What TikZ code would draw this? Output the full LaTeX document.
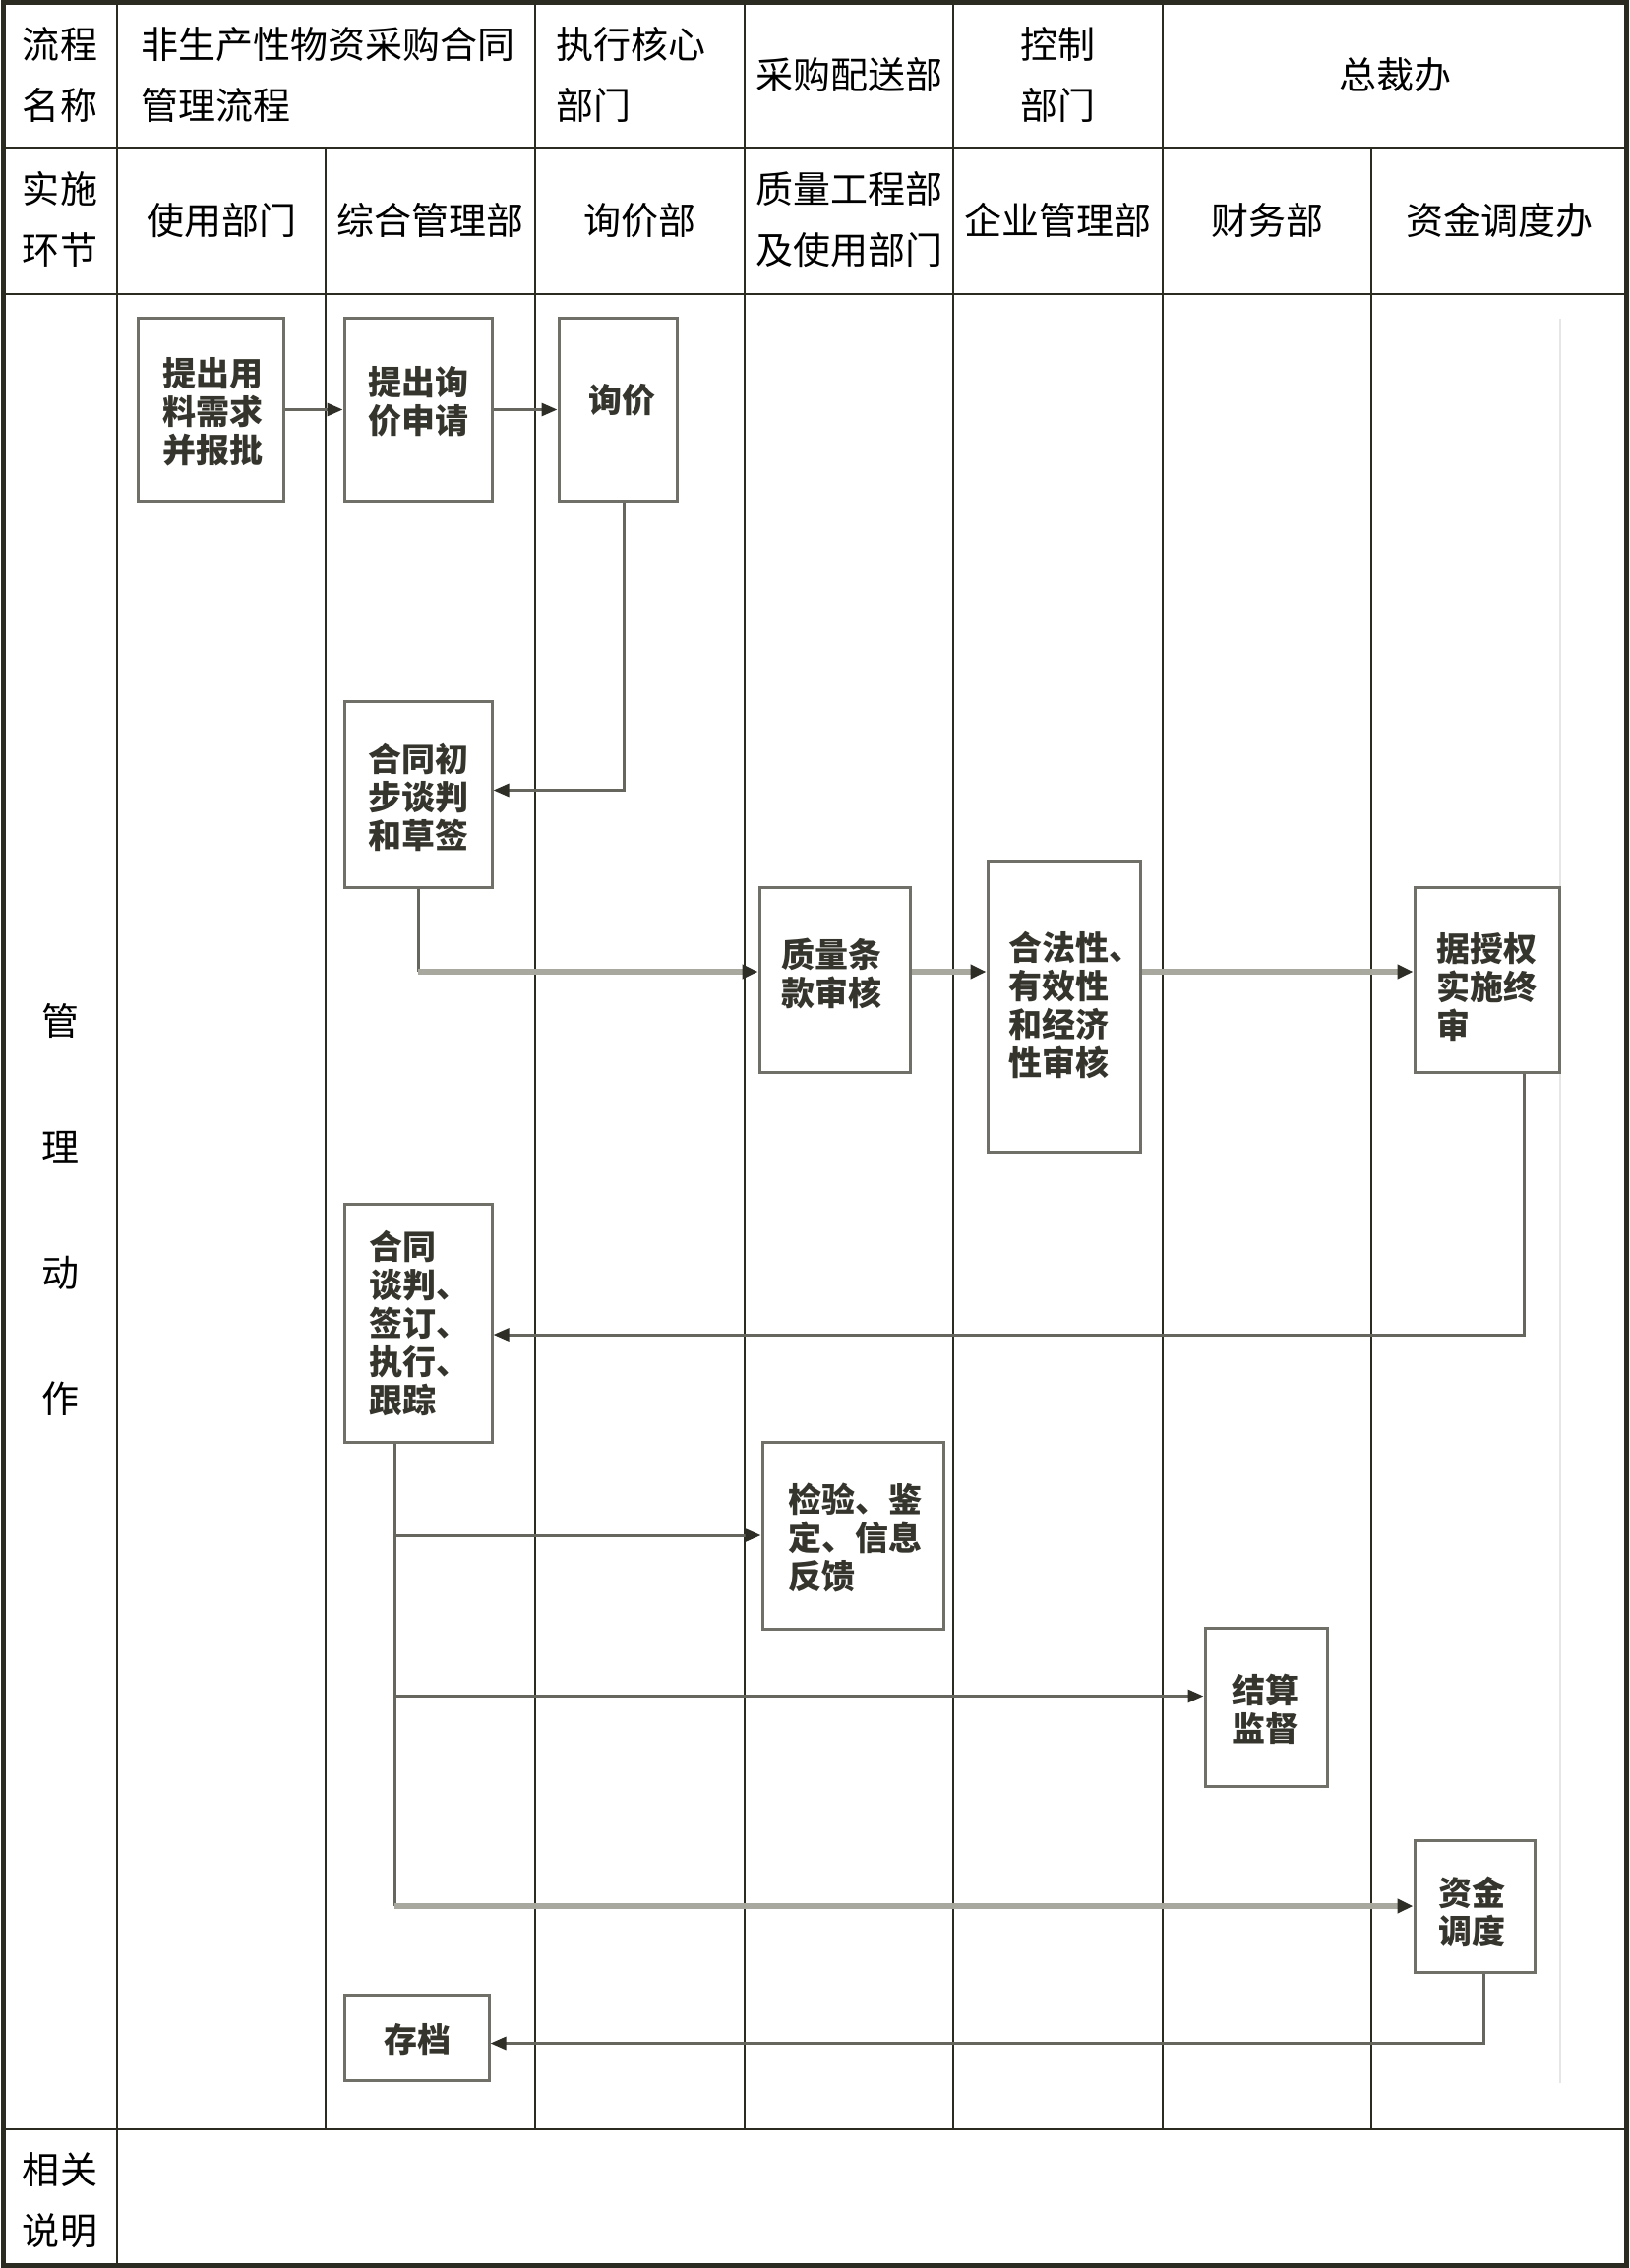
\documentclass[tikz,border=0pt]{standalone}
\usepackage{fontspec}
\setmainfont{Noto Sans CJK SC}
\newfontfamily\cjkf{Noto Sans CJK SC}
\usetikzlibrary{arrows.meta,calc}
\definecolor{gridc}{HTML}{2B2B22}
\definecolor{boxc}{HTML}{707068}
\definecolor{connc}{HTML}{66665E}
\definecolor{connlt}{HTML}{A8A89E}
\definecolor{tipc}{HTML}{2E2E26}
\definecolor{bxtxt}{HTML}{35352D}
\definecolor{faintc}{HTML}{E6E6E4}
\newcommand\myhdrfont{\cjkf\fontsize{38}{62}\selectfont}
\newcommand\mybxfont{\cjkf\bfseries\fontsize{34}{39}\selectfont}
\begin{document}
\begin{tikzpicture}[x=1pt,y=-1pt,
  gridline/.style={line width=2pt, draw=gridc},
  frameline/.style={line width=5pt, draw=gridc},
  hdr/.style={font=\myhdrfont, text=black, inner sep=0pt, align=center},
  hdrl/.style={hdr, align=left, anchor=west},
  box/.style={draw=boxc, line width=3pt, fill=white, inner sep=0pt},
  bxt/.style={font=\mybxfont, text=bxtxt, inner sep=0pt, align=left, anchor=west},
  bxc/.style={bxt, anchor=center},
  conn/.style={draw=connc, line width=3pt, -{Triangle[length=16pt,width=13pt,color=tipc]}},
  connplain/.style={draw=connc, line width=3pt},
  connthick/.style={draw=connlt, line width=6pt, -{Triangle[length=16pt,width=14pt,color=tipc]}},
]
\useasboundingbox (0,0) rectangle (1656,2306);
\fill[white] (0,0) rectangle (1656,2306);

% faint edge of pasted chart
\draw[faintc, line width=2pt] (1586,324) -- (1586,2118);

% table grid
\draw[gridline] (3,150) -- (1653,150);
\draw[gridline] (3,299) -- (1653,299);
\draw[gridline] (3,2165) -- (1653,2165);
\draw[gridline] (119,3) -- (119,2303);
\draw[gridline] (331,150) -- (331,2165);
\draw[gridline] (544,3) -- (544,2165);
\draw[gridline] (757,3) -- (757,2165);
\draw[gridline] (969,3) -- (969,2165);
\draw[gridline] (1182,3) -- (1182,2165);
\draw[gridline] (1394,150) -- (1394,2165);
\draw[frameline] (3,3) rectangle (1653,2303);

% header row 1
\node[hdr] (h11) at (61,76) {流程\\名称};
\node[hdrl] (h12) at (143,76) {非生产性物资采购合同\\管理流程};
\node[hdrl] (h13) at (565,76) {执行核心\\部门};
\node[hdr] (h14) at (863,76) {采购配送部};
\node[hdr] (h15) at (1075,76) {控制\\部门};
\node[hdr] (h16) at (1418,76) {总裁办};

% header row 2
\node[hdr] (h21) at (61,223) {实施\\环节};
\node[hdr] (h22) at (225,224) {使用部门};
\node[hdr] (h23) at (437,224) {综合管理部};
\node[hdr] (h24) at (650,224) {询价部};
\node[hdr] (h25) at (863,223) {质量工程部\\及使用部门};
\node[hdr] (h26) at (1075,224) {企业管理部};
\node[hdr] (h27) at (1288,224) {财务部};
\node[hdr] (h28) at (1524,224) {资金调度办};

% left column
\node[hdr] (m1) at (61,1038) {管};
\node[hdr] (m2) at (61,1166) {理};
\node[hdr] (m3) at (61,1294) {动};
\node[hdr] (m4) at (61,1422) {作};
\node[hdr] (r1) at (61,2237) {相关\\说明};

% boxes
\node[box, minimum width=148pt, minimum height=185pt] (b1) at (214,416.5) {};
\node[box, minimum width=150pt, minimum height=185pt] (b2) at (425,416.5) {};
\node[box, minimum width=120pt, minimum height=185pt] (b3) at (628,416.5) {};
\node[box, minimum width=150pt, minimum height=189pt] (b4) at (425,807.5) {};
\node[box, minimum width=153pt, minimum height=188pt] (b5) at (848.5,996) {};
\node[box, minimum width=155pt, minimum height=296pt] (b6) at (1081.5,1023) {};
\node[box, minimum width=147pt, minimum height=188pt] (b7) at (1511.5,996) {};
\node[box, minimum width=150pt, minimum height=242pt] (b8) at (425,1345) {};
\node[box, minimum width=184pt, minimum height=190pt] (b9) at (867,1561) {};
\node[box, minimum width=124pt, minimum height=161pt] (b10) at (1287,1735.5) {};
\node[box, minimum width=122pt, minimum height=134pt] (b11) at (1499,1938) {};
\node[box, minimum width=147pt, minimum height=87pt] (b12) at (423.5,2071.5) {};

% box texts
\node[bxt] (t1) at (165,419) {提出用\\料需求\\并报批};
\node[bxt] (t2) at (374,408) {提出询\\价申请};
\node[bxc] (t3) at (632,407) {询价};
\node[bxt] (t4) at (374,810) {合同初\\步谈判\\和草签};
\node[bxt] (t5) at (794,990) {质量条\\款审核};
\node[bxt] (t6) at (1025,1022) {合法性、\\有效性\\和经济\\性审核};
\node[bxt] (t7) at (1460,1004) {据授权\\实施终\\审};
\node[bxt] (t8) at (375,1346) {合同\\谈判、\\签订、\\执行、\\跟踪};
\node[bxt] (t9) at (801,1563) {检验、鉴\\定、信息\\反馈};
\node[bxt] (t10) at (1252,1738) {结算\\监督};
\node[bxt] (t11) at (1462,1944) {资金\\调度};
\node[bxc] (t12) at (424,2074) {存档};

% connectors (y axis points down: positive yshift moves up)
\draw[conn] (b1.east) -- (b2.west);
\draw[conn] (b2.east) -- (b3.west);
\draw[conn] ([xshift=6pt]b3.south) |- ([yshift=4pt]b4.east);
\coordinate (row5) at ([yshift=8pt]b5.west);
\draw[connplain] (b4.south) -- (b4.south |- row5);
\draw[connthick] (b4.south |- row5) -- (row5);
\draw[connthick] (b5.east |- row5) -- (b6.west |- row5);
\draw[connthick] (b6.east |- row5) -- (b7.west |- row5);
\draw[conn] ([xshift=38pt]b7.south) |- ([yshift=-12pt]b8.east);
\coordinate (split) at ([xshift=-24pt]b8.south);
\draw[conn] (split |- b9.west) -- (b9.west);
\coordinate (row10) at ([yshift=11pt]b10.west);
\draw[conn] (split |- row10) -- (row10);
\draw[connplain] (split) -- (split |- b11.west);
\draw[connthick] (split |- b11.west) -- (b11.west);
\draw[conn] ([xshift=9pt]b11.south) |- ([yshift=-6pt]b12.east);
\end{tikzpicture}
\end{document}
